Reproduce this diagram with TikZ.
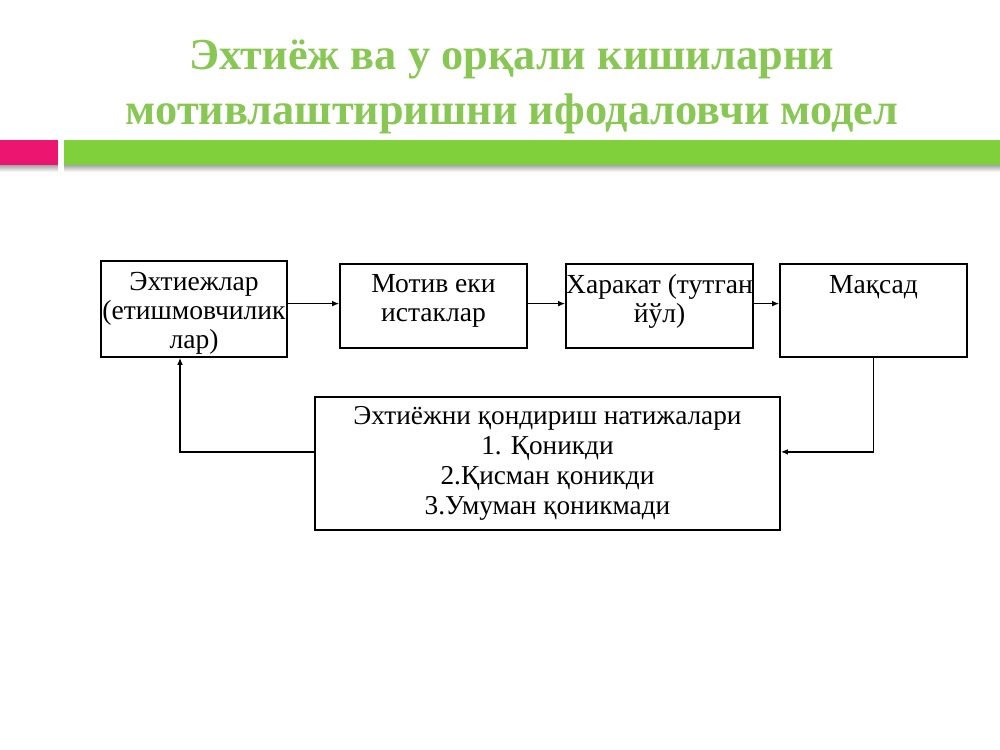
\documentclass[tikz,border=0pt]{standalone}
\usepackage{fontspec}
\setmainfont{Liberation Serif}
\usetikzlibrary{arrows.meta,positioning}
\definecolor{barpink}{RGB}{236,22,112}
\definecolor{bargreen}{RGB}{128,208,60}
\definecolor{headgreen}{RGB}{137,199,84}

\begin{document}
\begin{tikzpicture}[x=0.025cm, y=-0.025cm, >={Latex[length=5pt,width=4pt]},
  box/.style={draw, line width=1.1pt, inner sep=0pt},
  txt/.style={align=center, inner sep=0pt, font=\fontsize{19.6}{20.6}\selectfont},
  link/.style={->, line width=0.9pt},
  head/.style={align=center, font=\fontsize{31.5}{39}\selectfont\bfseries, text=headgreen}]
\useasboundingbox (0,0) rectangle (1000,750);
% title and bar
\node[head] (title) at (512,87) {Эхтиёж ва у орқали кишиларни\\мотивлаштиришни ифодаловчи модел};
\shade[top color=black!35, bottom color=white] (0,165) rectangle (58,172);
\shade[top color=black!35, bottom color=white] (64,165) rectangle (1000,172);
\fill[barpink] (0,140) rectangle (58,165);
\fill[bargreen] (64,140) rectangle (1000,165);
% boxes
\node[box, minimum width=4.65cm, minimum height=2.4cm] (need) at (194,309) {};
\node[box, minimum width=4.675cm, minimum height=2.1cm] (motive) at (433.5,306) {};
\node[box, minimum width=4.675cm, minimum height=2.1cm] (act) at (659.5,306) {};
\node[box, minimum width=4.675cm, minimum height=2.325cm] (goal) at (873.5,310.5) {};
\node[box, txt, minimum width=11.625cm, minimum height=3.325cm, font=\fontsize{19.4}{21.3}\selectfont] (result) at (547.5,463.5)
  {Эхтиёжни қондириш натижалари\\1. Қоникди\\2.Қисман қоникди\\3.Умуман қоникмади};
\node[txt, below=0.3cm of need.north] (needT) {Эхтиежлар\\(етишмовчилик\\лар)};
\node[txt, below=0.28cm of motive.north] (motiveT) {Мотив еки\\истаклар};
\node[txt, below=0.27cm of act.north] (actT) {Харакат (тутган\\йўл)};
\node[txt, below=0.31cm of goal.north] (goalT) {Мақсад};
% connectors
\draw[link] ([yshift=0.06cm]need.east |- motive.west) -- ([yshift=0.06cm]motive.west);
\draw[link] ([yshift=0.06cm]motive.east) -- ([yshift=0.06cm]act.west);
\draw[link] ([yshift=0.06cm]act.east) -- ([yshift=0.06cm]act.east -| goal.west);
\draw[link] (goal.south) |- ([yshift=0.29cm]result.east);
\draw[link] ([yshift=0.29cm]result.west) -| ([xshift=-0.35cm]need.south);
\end{tikzpicture}
\end{document}
